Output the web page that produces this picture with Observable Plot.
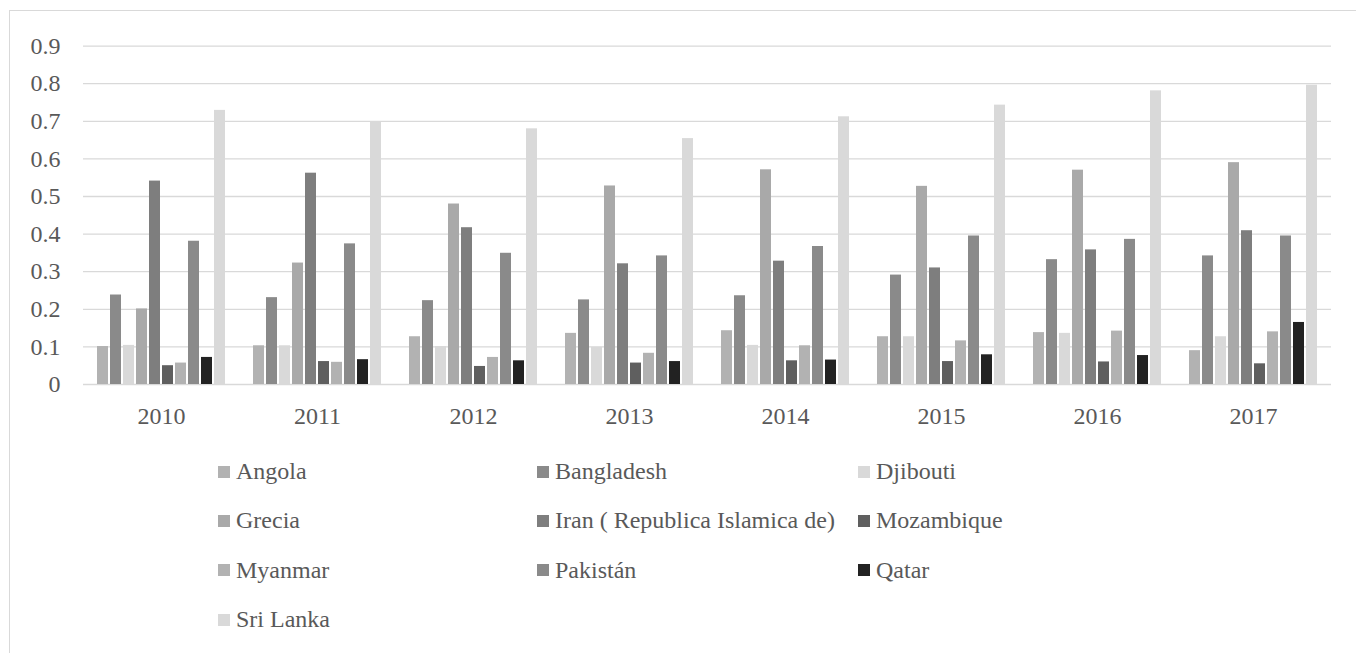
<!DOCTYPE html>
<html>
<head>
<meta charset="utf-8">
<script src="https://cdn.jsdelivr.net/npm/d3@7"></script>
<script src="https://cdn.jsdelivr.net/npm/@observablehq/plot@0.6"></script>
<style>
  html, body { margin: 0; padding: 0; background: #ffffff; }
  #page { position: relative; width: 1356px; height: 653px; overflow: hidden; }
  #frame {
    position: absolute; left: 9px; top: 10px; width: 1400px; height: 700px;
    border: 1.3px solid #d9d9d9; box-sizing: border-box;
  }
  #chart { position: absolute; left: 0; top: 0; }
  #legend {
    position: absolute; left: 218px; top: 447px;
    display: grid; grid-template-columns: 319px 321px 220px; grid-auto-rows: 49.3px;
    font-family: "Liberation Serif", serif; font-size: 24px; color: #595959;
  }
  .item { display: flex; align-items: center; white-space: nowrap; line-height: 49.3px; }
  .swatch { width: 12px; height: 12px; margin-right: 6px; flex: none; }
</style>
</head>
<body>
<div id="page">
  <div id="frame"></div>
  <div id="chart"></div>
  <div id="legend"></div>
</div>
<script>
// Years on the category axis
const years = ["2010", "2011", "2012", "2013", "2014", "2015", "2016", "2017"];

// Country series, in legend order
const countries = [
  "Angola", "Bangladesh", "Djibouti", "Grecia", "Iran ( Republica Islamica de)",
  "Mozambique", "Myanmar", "Pakistán", "Qatar", "Sri Lanka"
];

// Grey shades for each country
const shades = [
  "#b2b2b2", "#8a8a8a", "#d9d9d9", "#a9a9a9", "#7e7e7e",
  "#5f5f5f", "#b2b2b2", "#8a8a8a", "#222222", "#d9d9d9"
];

// Values per country, 2010–2017
const angola     = [0.101, 0.103, 0.127, 0.136, 0.143, 0.127, 0.138, 0.090];
const bangladesh = [0.238, 0.231, 0.223, 0.225, 0.236, 0.291, 0.332, 0.342];
const djibouti   = [0.104, 0.103, 0.101, 0.099, 0.104, 0.127, 0.136, 0.127];
const grecia     = [0.201, 0.323, 0.480, 0.528, 0.571, 0.527, 0.570, 0.590];
const iran       = [0.541, 0.562, 0.417, 0.321, 0.328, 0.310, 0.358, 0.409];
const mozambique = [0.050, 0.061, 0.048, 0.057, 0.063, 0.061, 0.060, 0.055];
const myanmar    = [0.057, 0.059, 0.072, 0.083, 0.103, 0.116, 0.142, 0.140];
const pakistan   = [0.381, 0.374, 0.349, 0.342, 0.367, 0.395, 0.386, 0.395];
const qatar      = [0.072, 0.066, 0.063, 0.061, 0.065, 0.079, 0.077, 0.165];
const sriLanka   = [0.729, 0.698, 0.680, 0.654, 0.712, 0.743, 0.781, 0.796];

// Value axis ticks and their labels
const yTicks = [0, 0.1, 0.2, 0.3, 0.4, 0.5, 0.6, 0.7, 0.8, 0.9];
const yTickLabels = ["0", "0.1", "0.2", "0.3", "0.4", "0.5", "0.6", "0.7", "0.8", "0.9"];

const series = [angola, bangladesh, djibouti, grecia, iran, mozambique, myanmar, pakistan, qatar, sriLanka];

// Long-format table: one row per (year, country)
const rows = [];
years.forEach((year, i) => {
  countries.forEach((country, j) => {
    rows.push({year, country, value: series[j][i]});
  });
});

const chart = Plot.plot({
  width: 1356,
  height: 440,
  marginLeft: 81,
  marginRight: 23,
  marginTop: 45.6,
  marginBottom: 56,
  style: {
    fontFamily: "'Liberation Serif', serif",
    fontSize: "24px",
    color: "#595959",
    background: "transparent",
    overflow: "visible"
  },
  fx: {
    domain: years,
    paddingInner: 0,
    paddingOuter: 0,
    label: null,
    axis: "bottom",
    tickSize: 0,
    tickPadding: 22
  },
  x: {
    domain: countries,
    paddingInner: 0.18,
    paddingOuter: 0.84,
    axis: null
  },
  y: {
    domain: [0, 0.9],
    ticks: yTicks,
    tickFormat: (d, i) => yTickLabels[yTicks.indexOf(d)],
    tickSize: 0,
    tickPadding: 23,
    label: null,
    axis: "left"
  },
  color: {domain: countries, range: shades},
  marks: [
    Plot.ruleY(yTicks, {stroke: "#d9d9d9", strokeWidth: 1.3}),
    Plot.barY(rows, {fx: "year", x: "country", y: "value", fill: "country"})
  ]
});

document.getElementById("chart").appendChild(chart);

// Legend below the chart, three columns, row-major order
const legend = document.getElementById("legend");
countries.forEach((c, i) => {
  const item = document.createElement("div");
  item.className = "item";
  const sw = document.createElement("span");
  sw.className = "swatch";
  sw.style.background = shades[i];
  const label = document.createElement("span");
  label.textContent = c;
  item.appendChild(sw);
  item.appendChild(label);
  legend.appendChild(item);
});
</script>
</body>
</html>
